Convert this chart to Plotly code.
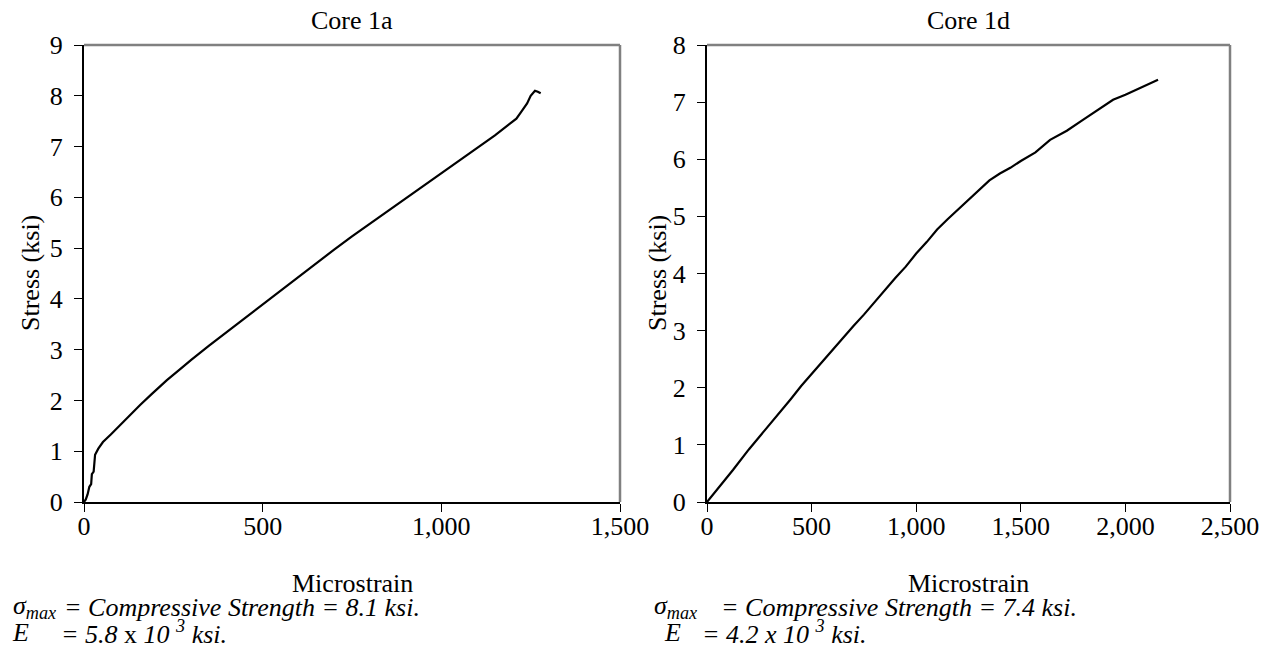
import plotly.graph_objects as go

# Core 1a: stress-strain readings (microstrain, ksi)
strain_1a = [0, 5, 10, 15, 20, 22, 27, 29, 31, 40, 53, 75, 101, 130, 157, 190, 232,
             270, 300, 350, 400, 450, 500, 550, 600, 650, 700, 750, 800, 850, 900,
             950, 1000, 1050, 1100, 1150, 1192, 1210, 1225, 1240, 1250, 1262, 1270, 1278]
stress_1a = [0, 0.05, 0.15, 0.3, 0.35, 0.55, 0.6, 0.85, 0.93, 1.05, 1.18, 1.33, 1.52, 1.72, 1.91, 2.13, 2.4,
             2.62, 2.8, 3.08, 3.35, 3.63, 3.9, 4.17, 4.44, 4.7, 4.97, 5.23, 5.48, 5.73, 5.98,
             6.22, 6.47, 6.72, 6.98, 7.22, 7.45, 7.55, 7.7, 7.85, 8.0, 8.1, 8.08, 8.05]

# Core 1d: stress-strain readings (microstrain, ksi)
strain_1d = [0, 50, 124, 200, 239, 300, 350, 400, 450, 500, 550, 600, 650, 700, 750, 800,
             850, 900, 950, 1000, 1050, 1100, 1150, 1200, 1250, 1300, 1350, 1400, 1450,
             1500, 1570, 1640, 1720, 1797, 1870, 1941, 2000, 2080, 2156]
stress_1d = [0, 0.22, 0.56, 0.92, 1.09, 1.35, 1.57, 1.8, 2.03, 2.24, 2.45, 2.67, 2.88, 3.08, 3.28, 3.5,
             3.7, 3.92, 4.12, 4.35, 4.55, 4.77, 4.95, 5.12, 5.3, 5.47, 5.63, 5.75, 5.85,
             5.97, 6.12, 6.34, 6.5, 6.69, 6.87, 7.04, 7.13, 7.27, 7.39]

titles = ["Core 1a", "Core 1d"]
x_ticks_1a = [0, 500, 1000, 1500]
x_ticks_1d = [0, 500, 1000, 1500, 2000, 2500]
y_ticks_1a = list(range(0, 10))
y_ticks_1d = list(range(0, 9))

FONT = "Liberation Serif, Times New Roman, serif"

fig = go.Figure()
fig.add_trace(go.Scatter(x=strain_1a, y=stress_1a, mode="lines",
                         line=dict(color="black", width=2.2), xaxis="x", yaxis="y",
                         showlegend=False))
fig.add_trace(go.Scatter(x=strain_1d, y=stress_1d, mode="lines",
                         line=dict(color="black", width=2.2), xaxis="x2", yaxis="y2",
                         showlegend=False))

W, H = 1271, 664
dom_x1 = [84 / W, 620 / W]
dom_x2 = [707 / W, 1230 / W]
dom_y = [1 - 502 / H, 1 - 45 / H]

axis_common = dict(showgrid=False, zeroline=False, showline=True, linecolor="black",
                   linewidth=2, ticks="outside", ticklen=8, tickcolor="black",
                   tickwidth=1, automargin=False,
                   tickfont=dict(family=FONT, size=26, color="black"))

fig.update_layout(
    width=W, height=H, margin=dict(l=0, r=0, t=0, b=0, autoexpand=False),
    paper_bgcolor="white", plot_bgcolor="white",
    xaxis=dict(domain=dom_x1, range=[0, 1500], tickvals=x_ticks_1a,
               ticktext=[f"{v:,}" for v in x_ticks_1a], anchor="y",
               ticklabelstandoff=-8, **axis_common),
    yaxis=dict(domain=dom_y, range=[0, 9], tickvals=y_ticks_1a, anchor="x",
               ticklabelstandoff=6, **axis_common),
    xaxis2=dict(domain=dom_x2, range=[0, 2500], tickvals=x_ticks_1d,
                ticktext=[f"{v:,}" for v in x_ticks_1d], anchor="y2",
                ticklabelstandoff=-8, **axis_common),
    yaxis2=dict(domain=dom_y, range=[0, 8], tickvals=y_ticks_1d, anchor="x2",
                ticklabelstandoff=6, **axis_common),
)

# grey frame on the top and right edges of each plot area
for xr, yr in (("x domain", "y domain"), ("x2 domain", "y2 domain")):
    fig.add_shape(type="line", xref=xr, yref=yr, x0=0, x1=1, y0=1, y1=1,
                  line=dict(color="#808080", width=2.5), layer="below")
    fig.add_shape(type="line", xref=xr, yref=yr, x0=1, x1=1, y0=0, y1=1,
                  line=dict(color="#808080", width=2.5), layer="below")

def px(x):
    return x / W

def py(y):
    return 1 - y / H

def note(text, x, y, size=26, xanchor="center", textangle=0):
    fig.add_annotation(text=text, x=px(x), y=py(y), xref="paper", yref="paper",
                       xanchor=xanchor, yanchor="middle", showarrow=False,
                       textangle=textangle, borderpad=0,
                       font=dict(family=FONT, size=size, color="black"))

# panel titles
note(titles[0], 352, 20)
note(titles[1], 968, 20)

# axis titles
note("Microstrain", 352, 583)
note("Microstrain", 968, 583)
note("Stress (ksi)", 30, 273, textangle=-90)
note("Stress (ksi)", 657, 273, textangle=-90)

# material properties below each chart
note("<i>σ<sub>max</sub></i>", 12, 607, xanchor="left")
note("<i>= Compressive Strength = 8.1 ksi.</i>", 63, 607, xanchor="left")
note("<i>E</i>", 11, 632, xanchor="left")
note("<i>= 5.8</i> x <i>10 <sup>3</sup> ksi.</i>", 60, 632, xanchor="left")

note("<i>σ<sub>max</sub></i>", 653, 607, xanchor="left")
note("<i>= Compressive Strength = 7.4 ksi.</i>", 720, 607, xanchor="left")
note("<i>E</i>", 663, 632, xanchor="left")
note("<i>= 4.2 x 10 <sup>3</sup> ksi.</i>", 701, 632, xanchor="left")

fig.write_html("out.html")
